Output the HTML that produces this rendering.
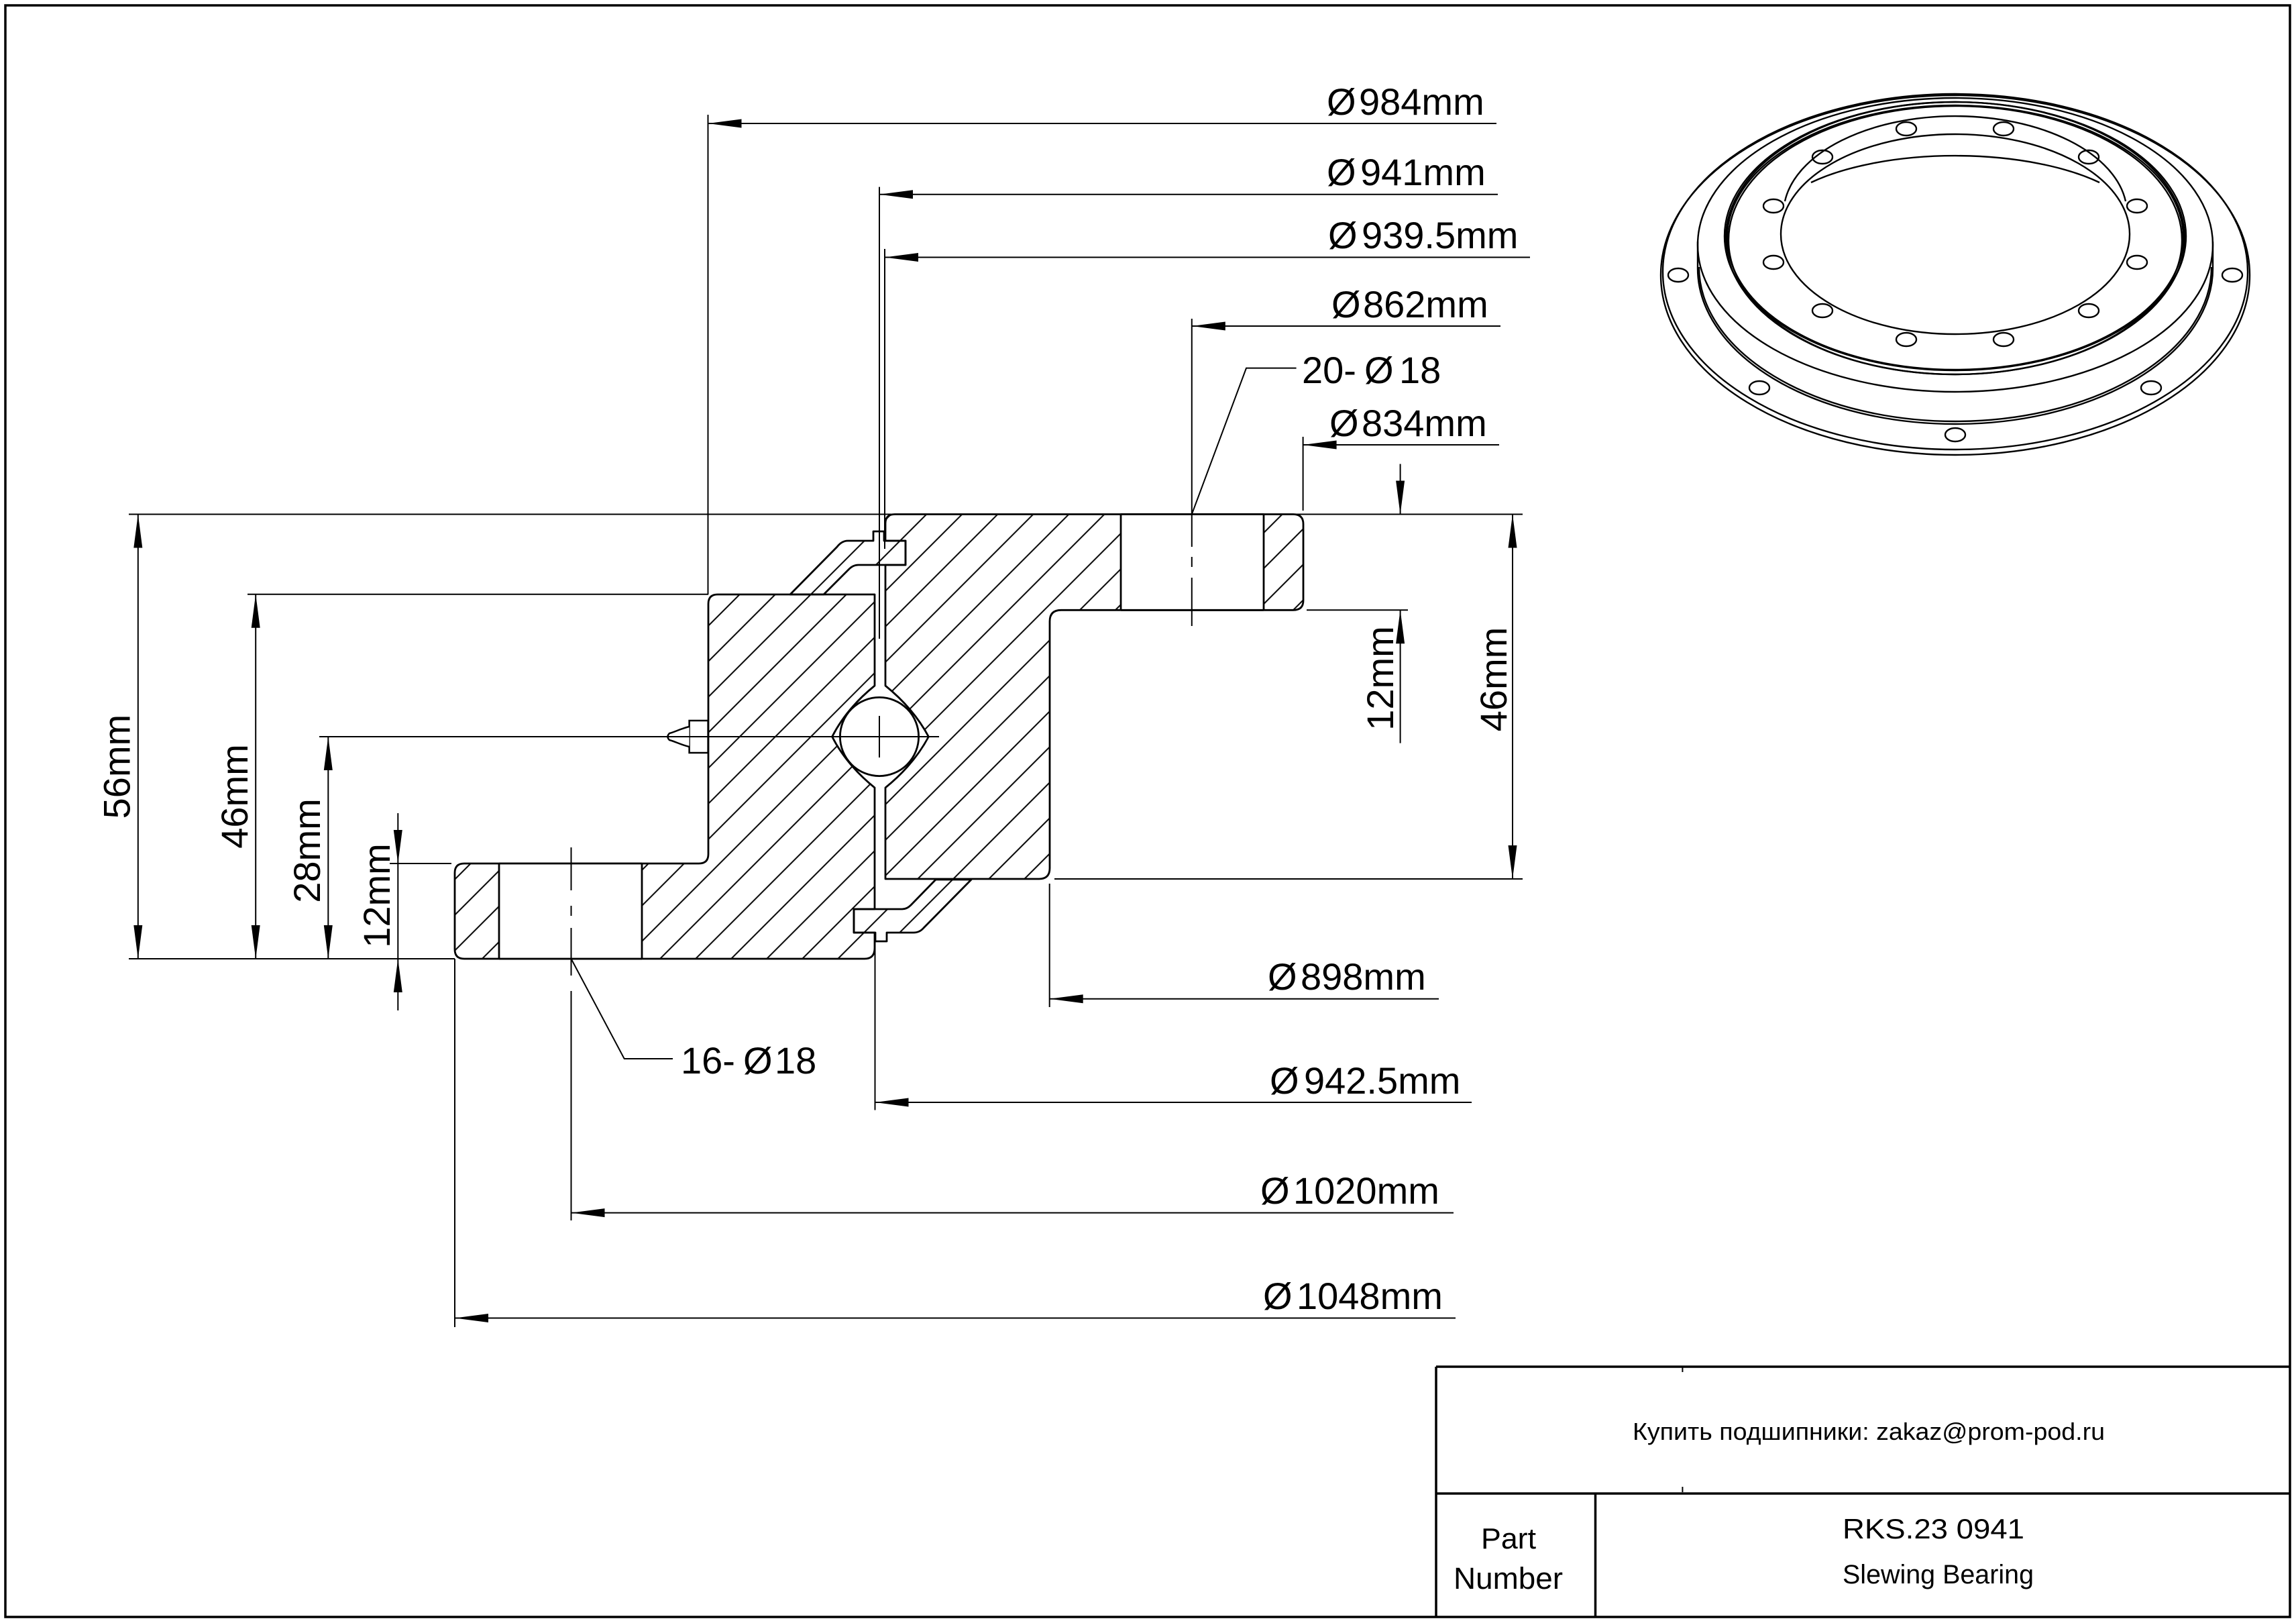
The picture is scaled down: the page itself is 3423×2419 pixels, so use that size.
<!DOCTYPE html>
<html><head><meta charset="utf-8"><style>
html,body{margin:0;padding:0;background:#fff;}
svg{display:block;}
text{font-family:"Liberation Sans","Noto Sans CJK SC",sans-serif;fill:#000;}
</style></head><body>
<svg width="3423" height="2419" viewBox="0 0 3423 2419" xmlns="http://www.w3.org/2000/svg">
<defs>
<pattern id="h" patternUnits="userSpaceOnUse" width="37.5" height="40" patternTransform="rotate(45)">
<line x1="18.75" y1="-5" x2="18.75" y2="45" stroke="#000" stroke-width="2"/>
</pattern>
</defs>
<rect x="0" y="0" width="3423" height="2419" fill="#fff"/>
<rect x="8" y="8" width="3406" height="2402" fill="none" stroke="#000" stroke-width="3.5"/>

<!-- ===== Section parts ===== -->
<g stroke="#000" stroke-width="2.8" stroke-linejoin="round">
<!-- outer ring -->
<path fill="url(#h)" d="M1056,900 Q1056,886 1070,886 L1304,886 L1304,1022 Q1262,1056 1240.6,1098 Q1262,1140 1304,1174 L1304,1355 L1273,1355 L1273,1390 L1304,1390 L1304,1413 Q1304,1429 1289,1429 L692,1429 Q678,1429 678,1415 L678,1301 Q678,1287 692,1287 L1042,1287 Q1056,1287 1056,1273 Z"/>
<!-- inner ring -->
<path fill="url(#h)" d="M1320,780 Q1320,766.5 1334,766.5 L1928,766.5 Q1943,766.5 1943,781 L1943,895 Q1943,909.3 1928,909.3 L1582,909.3 Q1565,909.3 1565,926 L1565,1294 Q1565,1310 1549,1310 L1320,1310 L1320,1174 Q1362,1140 1384.4,1098 Q1362,1056 1320,1022 L1320,842 L1350,842 L1350,806 L1320,806 Z"/>
<!-- top seal -->
<path fill="url(#h)" d="M1178,886 L1248,815 Q1255,806 1264,806 L1302,806 L1302,792 L1318,792 L1318,806 L1350,806 L1350,842 L1280,842 Q1272,842 1266,848 L1228,886 Z"/>
<!-- bottom seal -->
<path fill="url(#h)" d="M1273,1355 L1345,1355 Q1352,1355 1358,1349 L1395,1311 L1448,1311 L1377,1383 Q1371,1390 1362,1390 L1322,1390 L1322,1403 L1305,1403 L1305,1390 L1273,1390 Z"/>
</g>
<!-- holes (unhatched) -->
<g stroke="#000" stroke-width="2.8">
<rect x="744" y="1287" width="213" height="142" fill="#fff" stroke="none"/>
<line x1="744" y1="1287" x2="744" y2="1429"/><line x1="957" y1="1287" x2="957" y2="1429"/>
<line x1="744" y1="1287" x2="957" y2="1287"/><line x1="744" y1="1429" x2="957" y2="1429"/>
<rect x="1671" y="766.5" width="213" height="142.8" fill="#fff" stroke="none"/>
<line x1="1671" y1="766.5" x2="1671" y2="909.3"/><line x1="1884" y1="766.5" x2="1884" y2="909.3"/>
<line x1="1671" y1="766.5" x2="1884" y2="766.5"/><line x1="1671" y1="909.3" x2="1884" y2="909.3"/>
</g>
<!-- ball -->
<circle cx="1311" cy="1098" r="58.6" fill="#fff" stroke="#000" stroke-width="2.8"/>
<!-- grease nipple -->
<g stroke="#000" stroke-width="2.5" fill="#fff">
<rect x="1027.6" y="1074" width="28" height="48"/>
<path d="M1027.6,1083 C1015,1086 1006,1091 998,1093 Q993,1098 998,1103 C1006,1105 1015,1110 1027.6,1113"/>
</g>

<!-- ===== thin lines ===== -->
<g stroke="#000" stroke-width="2" fill="none">
<!-- extension lines -->
<line x1="192" y1="766.5" x2="2270" y2="766.5"/>
<line x1="369" y1="885.7" x2="1056" y2="885.7"/>
<line x1="476" y1="1098" x2="1400" y2="1098"/>
<line x1="581" y1="1287" x2="673" y2="1287"/>
<line x1="192" y1="1429" x2="678" y2="1429"/>
<line x1="1948" y1="909.3" x2="2099" y2="909.3"/>
<line x1="1572" y1="1310" x2="2270" y2="1310"/>
<!-- ball cross -->
<line x1="1311" y1="1067" x2="1311" y2="1129"/>
<!-- vertical dims left -->
<line x1="205.8" y1="766.5" x2="205.8" y2="1429"/>
<line x1="381.2" y1="885.7" x2="381.2" y2="1429"/>
<line x1="489.3" y1="1098" x2="489.3" y2="1429"/>
<line x1="593.3" y1="1212" x2="593.3" y2="1506"/>
<!-- vertical dims right -->
<line x1="2087.6" y1="691.5" x2="2087.6" y2="766.5"/>
<line x1="2087.6" y1="909.3" x2="2087.6" y2="1107.6"/>
<line x1="2255" y1="766.5" x2="2255" y2="1310"/>
<!-- top diameter dims -->
<line x1="1055.5" y1="171" x2="1055.5" y2="886"/>
<line x1="1055.5" y1="184" x2="2231" y2="184"/>
<line x1="1311" y1="278.6" x2="1311" y2="952"/>
<line x1="1311" y1="289.7" x2="2233" y2="289.7"/>
<line x1="1319" y1="371" x2="1319" y2="818"/>
<line x1="1319" y1="383.5" x2="2281" y2="383.5"/>
<line x1="1776.8" y1="475" x2="1776.8" y2="766.5"/>
<line x1="1776.8" y1="486" x2="2237" y2="486"/>
<line x1="1942.6" y1="651" x2="1942.6" y2="761"/>
<line x1="1942.6" y1="663" x2="2235" y2="663"/>
<polyline points="1776.8,766.5 1858,548.6 1932.6,548.6"/>
<!-- right hole centerline -->
<line x1="1776.8" y1="767" x2="1776.8" y2="815"/>
<line x1="1776.8" y1="830" x2="1776.8" y2="845"/>
<line x1="1776.8" y1="861" x2="1776.8" y2="933"/>
<!-- left hole centerline -->
<line x1="851.5" y1="1263" x2="851.5" y2="1327"/>
<line x1="851.5" y1="1350" x2="851.5" y2="1365"/>
<line x1="851.5" y1="1383" x2="851.5" y2="1454"/>
<line x1="851.5" y1="1477" x2="851.5" y2="1819"/>
<polyline points="851.5,1429 930.7,1578 1003,1578"/>
<!-- bottom diameter dims -->
<line x1="1564.7" y1="1317" x2="1564.7" y2="1501"/>
<line x1="1564.7" y1="1488.8" x2="2145" y2="1488.8"/>
<line x1="1304.5" y1="1403" x2="1304.5" y2="1654.5"/>
<line x1="1304.5" y1="1643" x2="2194" y2="1643"/>
<line x1="851.5" y1="1807.6" x2="2167" y2="1807.6"/>
<line x1="678" y1="1429" x2="678" y2="1978"/>
<line x1="678" y1="1964.5" x2="2170" y2="1964.5"/>
</g>

<!-- ===== arrowheads ===== -->
<g fill="#000" stroke="none">
<!-- left vertical -->
<polygon points="205.8,766.5 199.3,816.5 212.3,816.5"/>
<polygon points="205.8,1429 199.3,1379 212.3,1379"/>
<polygon points="381.2,885.7 374.7,935.7 387.7,935.7"/>
<polygon points="381.2,1429 374.7,1379 387.7,1379"/>
<polygon points="489.3,1098 482.8,1148 495.8,1148"/>
<polygon points="489.3,1429 482.8,1379 495.8,1379"/>
<polygon points="593.3,1287 586.8,1237 599.8,1237"/>
<polygon points="593.3,1429 586.8,1479 599.8,1479"/>
<!-- right vertical -->
<polygon points="2087.6,766.5 2081.1,716.5 2094.1,716.5"/>
<polygon points="2087.6,909.3 2081.1,959.3 2094.1,959.3"/>
<polygon points="2255,766.5 2248.5,816.5 2261.5,816.5"/>
<polygon points="2255,1310 2248.5,1260 2261.5,1260"/>
<!-- horizontal left-pointing -->
<polygon points="1055.5,184 1105.5,177.5 1105.5,190.5"/>
<polygon points="1311,289.7 1361,283.2 1361,296.2"/>
<polygon points="1319,383.5 1369,377 1369,390"/>
<polygon points="1776.8,486 1826.8,479.5 1826.8,492.5"/>
<polygon points="1942.6,663 1992.6,656.5 1992.6,669.5"/>
<polygon points="1564.7,1488.8 1614.7,1482.3 1614.7,1495.3"/>
<polygon points="1304.5,1643 1354.5,1636.5 1354.5,1649.5"/>
<polygon points="851.5,1807.6 901.5,1801.1 901.5,1814.1"/>
<polygon points="678,1964.5 728,1958 728,1971"/>
</g>

<!-- ===== dimension text ===== -->
<g font-size="56">
<text transform="translate(193.7,1142.6) rotate(-90)" text-anchor="middle">56mm</text>
<text transform="translate(369.2,1187) rotate(-90)" text-anchor="middle">46mm</text>
<text transform="translate(477.2,1268) rotate(-90)" text-anchor="middle">28mm</text>
<text transform="translate(581.2,1335) rotate(-90)" text-anchor="middle">12mm</text>
<text transform="translate(2076.8,1011) rotate(-90)" text-anchor="middle">12mm</text>
<text transform="translate(2246,1012.5) rotate(-90)" text-anchor="middle">46mm</text>

<text x="1978" y="171">Ø</text><text x="2026" y="171">984mm</text>
<text x="1978" y="276">Ø</text><text x="2028" y="276">941mm</text>
<text x="1980" y="370">Ø</text><text x="2030" y="370">939.5mm</text>
<text x="1985" y="473">Ø</text><text x="2032" y="473">862mm</text>
<text x="1941" y="571">20-</text><text x="2034" y="571">Ø</text><text x="2086" y="571">18</text>
<text x="1982" y="650">Ø</text><text x="2030" y="650">834mm</text>

<text x="1890" y="1475">Ø</text><text x="1939" y="1475">898mm</text>
<text x="1015" y="1600">16-</text><text x="1108" y="1600">Ø</text><text x="1155" y="1600">18</text>
<text x="1893" y="1630">Ø</text><text x="1944" y="1630">942.5mm</text>
<text x="1879" y="1794">Ø</text><text x="1928" y="1794">1020mm</text>
<text x="1883" y="1951">Ø</text><text x="1933" y="1951">1048mm</text>
</g>

<!-- ===== 3D view ===== -->
<g stroke="#000" stroke-width="2.4" fill="none">
<ellipse cx="2915" cy="410" rx="439" ry="268"/>
<ellipse cx="2915" cy="405" rx="436" ry="265"/>
<path d="M2531,400 A384,232 0 0 0 3299,400"/>
<path d="M2533,398 A382,230 0 0 0 3297,398"/>
<line x1="2531" y1="360" x2="2531" y2="400"/>
<line x1="3299" y1="360" x2="3299" y2="400"/>
<ellipse cx="2915" cy="365" rx="384" ry="219"/>
<ellipse cx="2915" cy="352" rx="344" ry="200"/>
<ellipse cx="2915" cy="354" rx="340" ry="197"/>
<ellipse cx="2915" cy="355" rx="342" ry="203"/>
<ellipse cx="2915" cy="358" rx="338" ry="200"/>
<ellipse cx="2915" cy="349" rx="260" ry="149"/>
<path d="M2661,300 A256,145 0 0 1 3169,300"/>
<path d="M2700,272 A280,111 0 0 1 3130,272"/>
<!-- top face holes -->
<ellipse cx="2842" cy="192" rx="15" ry="10"/>
<ellipse cx="2987" cy="192" rx="15" ry="10"/>
<ellipse cx="2717" cy="234" rx="15" ry="10"/>
<ellipse cx="3114" cy="234" rx="15" ry="10"/>
<ellipse cx="2644" cy="307" rx="15" ry="10"/>
<ellipse cx="3186" cy="307" rx="15" ry="10"/>
<ellipse cx="2644" cy="391" rx="15" ry="10"/>
<ellipse cx="3186" cy="391" rx="15" ry="10"/>
<ellipse cx="2717" cy="463" rx="15" ry="10"/>
<ellipse cx="3114" cy="463" rx="15" ry="10"/>
<ellipse cx="2842" cy="506" rx="15" ry="10"/>
<ellipse cx="2987" cy="506" rx="15" ry="10"/>
<!-- flange holes -->
<ellipse cx="2502" cy="410" rx="15" ry="10"/>
<ellipse cx="3328" cy="410" rx="15" ry="10"/>
<ellipse cx="2623" cy="578" rx="15" ry="10"/>
<ellipse cx="3207" cy="578" rx="15" ry="10"/>
<ellipse cx="2915" cy="648" rx="15" ry="10"/>
</g>

<!-- ===== title block ===== -->
<g stroke="#000" stroke-width="3.5">
<line x1="2141" y1="2037" x2="3414" y2="2037"/>
<line x1="2141" y1="2037" x2="2141" y2="2410"/>
<line x1="2141" y1="2226" x2="3414" y2="2226"/>
<line x1="2378.5" y1="2226" x2="2378.5" y2="2410"/>
</g>
<g stroke="#000" stroke-width="2">
<line x1="2508.4" y1="2038" x2="2508.4" y2="2045"/>
<line x1="2508.4" y1="2216" x2="2508.4" y2="2224"/>
</g>
<text x="2434" y="2146" font-size="36" textLength="704" lengthAdjust="spacingAndGlyphs">Купить подшипники: zakaz@prom-pod.ru</text>
<text x="2208" y="2308" font-size="44" textLength="82" lengthAdjust="spacingAndGlyphs">Part</text>
<text x="2167" y="2368" font-size="45" textLength="163" lengthAdjust="spacingAndGlyphs">Number</text>
<text x="2747" y="2293" font-size="42" textLength="271" lengthAdjust="spacingAndGlyphs">RKS.23 0941</text>
<text x="2747" y="2360" font-size="40" textLength="285" lengthAdjust="spacingAndGlyphs">Slewing Bearing</text>
</svg>
</body></html>
